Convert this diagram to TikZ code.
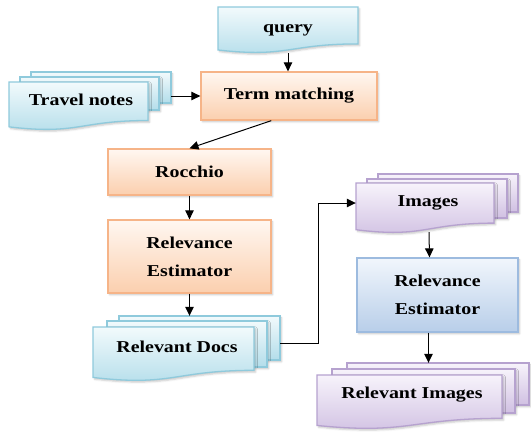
\documentclass[tikz,border=0pt]{standalone}
\usepackage{fontspec}
\setmainfont[FakeStretch=1.2]{Liberation Serif}
\usetikzlibrary{arrows.meta,calc,fit,shadows.blur}

% fills and outlines
\definecolor{blueT}{HTML}{F2FAFC}
\definecolor{blueB}{HTML}{B3DDEA}
\definecolor{blueL}{HTML}{8FCADC}
\definecolor{orangeT}{HTML}{FFF7F1}
\definecolor{orangeB}{HTML}{FBCFAE}
\definecolor{orangeL}{HTML}{F6B488}
\definecolor{purpleT}{HTML}{F7F3FB}
\definecolor{purpleB}{HTML}{D0C0E2}
\definecolor{purpleL}{HTML}{B6A2CF}
\definecolor{steelT}{HTML}{F1F6FC}
\definecolor{steelB}{HTML}{B8CEE9}
\definecolor{steelL}{HTML}{9DBBDF}

% flowchart "document" outline with a wavy lower edge: x0, y0, x1, nominal bottom, style
\newcommand\docshape[5]{%
  \path[#5] (#1,#2) -- (#3,#2) -- (#3,{#2+0.802*(#4-#2)})
    .. controls ({(#1+#3)/2},{#2+0.802*(#4-#2)}) and ({(#1+#3)/2},{#2+1.107*(#4-#2)})
    .. (#1,{#2+0.934*(#4-#2)}) -- cycle;}

\begin{document}
\begin{tikzpicture}[x=1pt,y=-1pt,
  shade/.style={blur shadow={shadow xshift=1.6pt,shadow yshift=-1.8pt,shadow blur steps=4,shadow opacity=22}},
  bluedoc/.style={shade,draw=blueL,line width=1.3pt,top color=blueT,bottom color=blueB},
  purpledoc/.style={shade,draw=purpleL,line width=1.3pt,top color=purpleT,bottom color=purpleB},
  orangebox/.style={shade,draw=orangeL,line width=1.3pt,top color=orangeT,bottom color=orangeB,
    rectangle,inner sep=0pt,align=center,font=\txt},
  steelbox/.style={shade,draw=steelL,line width=1.3pt,top color=steelT,bottom color=steelB,
    rectangle,inner sep=0pt,align=center,font=\txt},
  lbl/.style={inner sep=0pt,font=\txt},
  group/.style={inner sep=0pt,draw=none},
  arr/.style={draw=black,line width=1pt,-{Triangle[length=9pt,width=8.5pt]}}]
\providecommand\txt{\fontsize{16.6}{28}\selectfont\bfseries}
\useasboundingbox (0,0) rectangle (531,432);

% ---- query
\docshape{218}{7}{358}{53}{bluedoc}
\node[group,fit={(218,7)(358,53)}] (query) {};
\node[lbl] (query-txt) at (288,30) {query};

% ---- travel notes (stacked documents)
\path[bluedoc] (31,72) rectangle (171,103);
\path[bluedoc] (20,77) rectangle (159,110);
\docshape{9}{82}{148}{130}{bluedoc}
\node[group,fit={(9,72)(171,122)}] (tnotes) {};
\node[lbl] (tnotes-txt) at (81,100) {Travel notes};

% ---- processing boxes
\node[orangebox,minimum width=176pt,minimum height=48pt] (term) at (289,96) {Term matching};
\node[orangebox,minimum width=163pt,minimum height=46pt] (rocchio) at (189.5,172) {Rocchio};
\node[orangebox,minimum width=163pt,minimum height=73pt] (relest) at (189.5,256.5) {Relevance\\Estimator};

% ---- relevant docs (stacked documents)
\path[bluedoc] (119,316) rectangle (280,360);
\path[bluedoc] (107,321) rectangle (267,367);
\docshape{93}{327}{254}{381}{bluedoc}
\node[group,fit={(93,316)(280,370)}] (rdocs) {};
\node[lbl] (rdocs-txt) at (177,347) {Relevant Docs};

% ---- images (stacked documents)
\path[purpledoc] (378,174) rectangle (518,212);
\path[purpledoc] (367,179) rectangle (507,218);
\docshape{356}{183}{494}{233}{purpledoc}
\node[group,fit={(356,174)(518,232)}] (images) {};
\node[lbl] (images-txt) at (428,203) {Images};

\node[steelbox,minimum width=161pt,minimum height=74pt] (relest2) at (437.5,295) {Relevance\\Estimator};

% ---- relevant images (stacked documents)
\path[purpledoc] (347,363) rectangle (529,405);
\path[purpledoc] (332,369) rectangle (515,413);
\docshape{317}{375}{502}{429}{purpledoc}
\node[group,fit={(317,363)(529,427)}] (rimgs) {};
\node[lbl] (rimgs-txt) at (412,395) {Relevant Images};

% ---- connectors
\draw[arr] (query.south) -- (query.south |- term.north);
\draw[arr] (tnotes.east |- term.west) -- (term.west);
\draw[arr] ($(term.south west)!0.4!(term.south east)$) -- (rocchio.north);
\draw[arr] (rocchio.south) -- (relest.north);
\draw[arr] (relest.south) -- (relest.south |- rdocs.north);
\draw[arr] (rdocs.east) -- ++(38,0) |- (images.west);
\draw[arr] ($(images.south)+(-8,0)$) -- ($(relest2.north)+(-8,0)$);
\draw[arr] ($(relest2.south)+(-9,0)$) -- ($(rimgs.north -| relest2.south)+(-9,0)$);
\end{tikzpicture}
\end{document}
